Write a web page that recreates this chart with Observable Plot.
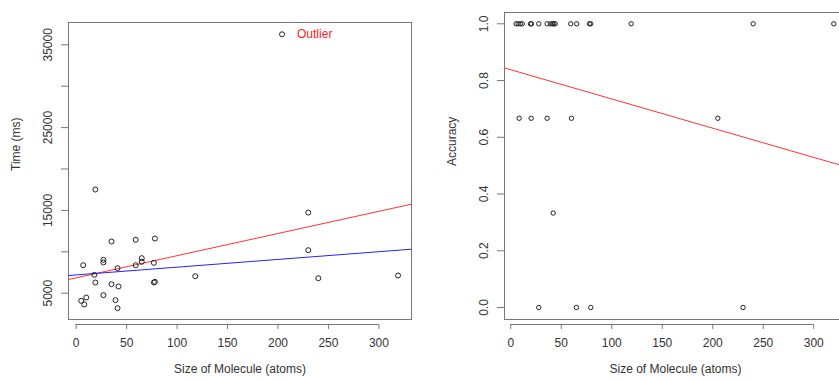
<!DOCTYPE html>
<html><head><meta charset="utf-8">
<script src="https://cdn.jsdelivr.net/npm/d3@7"></script>
<script src="https://cdn.jsdelivr.net/npm/@observablehq/plot@0.6"></script>
<style>
html,body{margin:0;padding:0;background:#fff;overflow:hidden;}
#wrap{position:relative;width:839px;height:381px;overflow:hidden;}
#left{position:absolute;left:0;top:0;width:420px;height:381px;}
#right{position:absolute;left:420px;top:0;width:430px;height:381px;}
#wrap svg{max-width:none !important;}
</style></head><body><div id="wrap"><div id="left"></div><div id="right"></div></div>
<script>
// ---- Left panel: Time vs size ----
const sizeL = [19, 230, 35, 59, 78, 230, 7, 27, 27, 65, 65, 59, 77, 41, 18, 19, 35, 42, 77, 78, 118, 240, 319, 27, 10, 5, 8, 39, 41, 204];
const timeL = [17520, 14740, 11240, 11450, 11600, 10190, 8380, 9030, 8710, 9230, 8790, 8380, 8670, 8020, 7220, 6290, 6090, 5810, 6290, 6380, 7050, 6810, 7140, 4760, 4480, 4080, 3640, 4160, 3190, 36270];
const outlierLabel = "Outlier";
const outlierSize = 204;
const outlierTime = 36270;
const fitLNames = ["all", "noOutlier"];
const fitLIntercept = [6857, 7208];
const fitLSlope = [26.77, 9.35];
const fitLColors = ["#ff3333", "#2222ff"];
const xTicks = [0, 50, 100, 150, 200, 250, 300];
const yTicksL = [5000, 10000, 15000, 20000, 25000, 30000, 35000];
const yLabelsL = [5000, 15000, 25000, 35000];

// ---- Right panel: Accuracy vs size ----
const sizeR = [5.3, 7.3, 9.6, 11.3, 19.5, 20.5, 27.7, 36, 39.3, 41.3, 42.6, 44, 59.4, 65.3, 77.9, 79.2, 119.2, 240, 319.8,
               8.3, 20.2, 36, 60.1, 205,
               42,
               27.7, 65, 79.2, 230];
const accR = [1,1,1,1,1,1,1,1,1,1,1,1,1,1,1,1,1,1,1,
              0.667,0.667,0.667,0.667,0.667,
              0.333,
              0,0,0,0];
const fitRIntercept = [0.838];
const fitRSlope = [-0.00103];
const yTicksR = [0, 0.2, 0.4, 0.6, 0.8, 1.0];

const xTitle = "Size of Molecule (atoms)";
const yTitleL = "Time (ms)";
const yTitleR = "Accuracy";

const FONT = "'Liberation Sans', Arial, sans-serif";
const LINE = "#777";
const TXT = "#333";

function lineData(intercepts, slopes, names, domain) {
  const out = [];
  intercepts.forEach((a, i) => {
    domain.forEach(x => out.push({x, y: a + slopes[i] * x, k: names[i], c: i}));
  });
  return out;
}

// Left
const xDomL = [-7.6, 332.3];
const yDomL = [1220, 37693];
const ptsL = sizeL.map((s, i) => ({x: s, y: timeL[i]}));
const fitsL = lineData(fitLIntercept, fitLSlope, fitLNames, xDomL);

const left = Plot.plot({
  width: 420, height: 381,
  marginLeft: 68, marginRight: 9, marginTop: 22, marginBottom: 57,
  style: {fontFamily: FONT, fontSize: "12px", color: TXT, background: "white"},
  x: {domain: xDomL, label: null},
  y: {domain: yDomL, label: null},
  marks: [
    Plot.frame({stroke: LINE, insetBottom: 5}),
    Plot.ruleY([yDomL[0]], {x1: xTicks[0], x2: xTicks[xTicks.length - 1], stroke: LINE}),
    Plot.axisX({ticks: xTicks, tickSize: 5, tickPadding: 9, stroke: LINE, fill: TXT, label: null}),
    Plot.axisY({ticks: yTicksL, tickSize: 7, tickPadding: 10, tickRotate: -90, stroke: LINE, fill: TXT, label: null,
      tickFormat: d => yLabelsL.includes(d) ? String(d) : ""}),
    Plot.line(fitsL, {x: "x", y: "y", z: "k", stroke: d => fitLColors[d.c], strokeWidth: 1, clip: true}),
    Plot.dot(ptsL, {x: "x", y: "y", r: 2.5, stroke: "#222", fill: "none", strokeWidth: 1}),
    Plot.text([outlierLabel], {x: outlierSize, y: outlierTime, text: d => d, textAnchor: "start", dx: 15, fill: "#ff2020", fontSize: 12}),
    Plot.text([xTitle], {frameAnchor: "bottom", dy: 48, fill: TXT}),
    Plot.text([yTitleL], {frameAnchor: "left", dx: -52, dy: -2.5, rotate: -90, fill: TXT})
  ]
});
document.getElementById("left").appendChild(left);

// Right
const xDomR = [-6.2, 332.4];
const yDomR = [-0.0599, 1.0398];
const ptsR = sizeR.map((s, i) => ({x: s, y: accR[i]}));
const fitsR = lineData(fitRIntercept, fitRSlope, ["acc"], xDomR);

const right = Plot.plot({
  width: 430, height: 381,
  marginLeft: 84, marginRight: 4, marginTop: 12, marginBottom: 57,
  style: {fontFamily: FONT, fontSize: "12px", color: TXT, background: "white"},
  x: {domain: xDomR, label: null},
  y: {domain: yDomR, label: null},
  marks: [
    Plot.frame({stroke: LINE, insetBottom: 5}),
    Plot.ruleY([yDomR[0]], {x1: xTicks[0], x2: xTicks[xTicks.length - 1], stroke: LINE}),
    Plot.axisX({ticks: xTicks, tickSize: 5, tickPadding: 9, stroke: LINE, fill: TXT, label: null}),
    Plot.axisY({ticks: yTicksR, tickSize: 7, tickPadding: 10, tickRotate: -90, stroke: LINE, fill: TXT, label: null,
      tickFormat: d => d.toFixed(1)}),
    Plot.line(fitsR, {x: "x", y: "y", stroke: "#ff3333", strokeWidth: 1, clip: true}),
    Plot.dot(ptsR, {x: "x", y: "y", r: 2.2, stroke: "#222", fill: "none", strokeWidth: 1}),
    Plot.text([xTitle], {frameAnchor: "bottom", dy: 48, fill: TXT}),
    Plot.text([yTitleR], {frameAnchor: "left", dx: -52, dy: -2.5, rotate: -90, fill: TXT})
  ]
});
document.getElementById("right").appendChild(right);
</script>
</body></html>
